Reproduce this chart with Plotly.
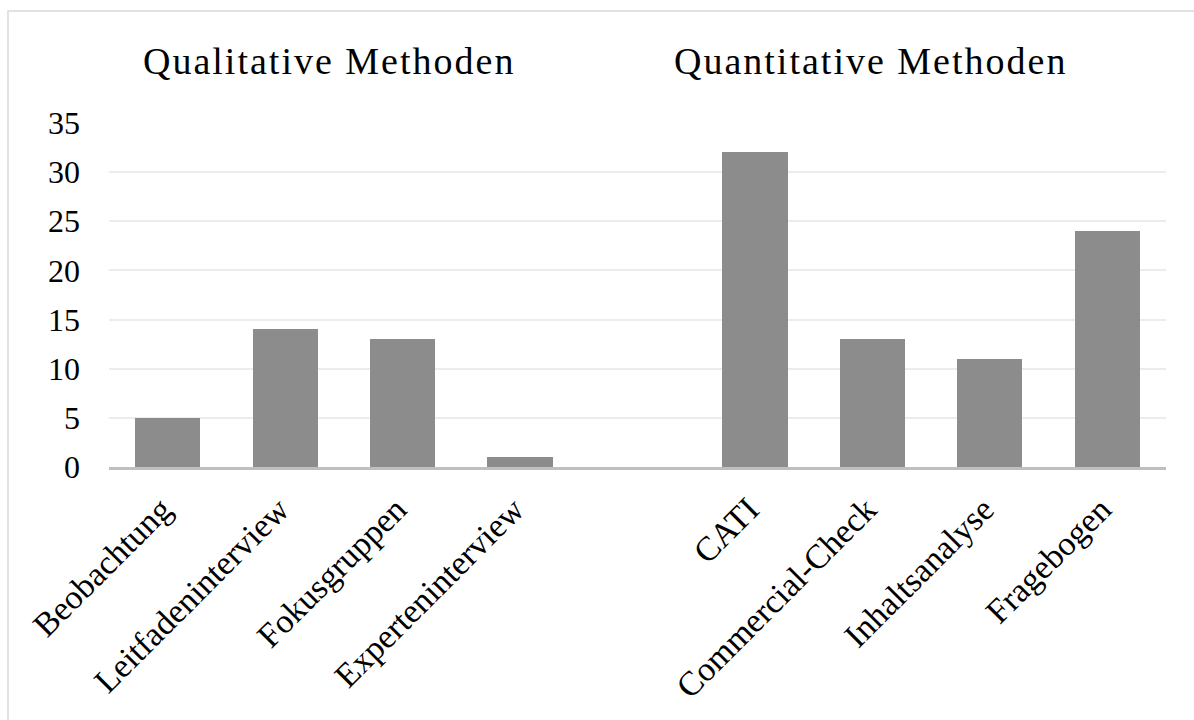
import plotly.graph_objects as go

# Survey methods and how often each was used; the blank slot separates the two groups
categories = ["Beobachtung", "Leitfadeninterview", "Fokusgruppen", "Experteninterview", "",
              "CATI", "Commercial-Check", "Inhaltsanalyse", "Fragebogen"]
counts = [5, 14, 13, 1, None, 32, 13, 11, 24]
group_titles = ["Qualitative Methoden", "Quantitative Methoden"]
y_ticks = [0, 5, 10, 15, 20, 25, 30, 35]

FONT = "Liberation Serif, Times New Roman, serif"
positions = list(range(len(categories)))

fig = go.Figure(
    go.Bar(
        x=positions,
        y=counts,
        width=0.555,
        marker=dict(color="#8c8c8c", line=dict(width=0)),
        hoverinfo="x+y",
    )
)

fig.update_layout(
    width=1194,
    height=720,
    margin=dict(l=109, r=28, t=123, b=253),
    paper_bgcolor="white",
    plot_bgcolor="white",
    showlegend=False,
    font=dict(family=FONT, color="black", size=32),
    bargap=0,
)

fig.update_xaxes(
    range=[-0.5, len(categories) - 0.5],
    tickvals=positions,
    ticktext=categories,
    tickangle=-45,
    tickfont=dict(family=FONT, size=34, color="black"),
    ticklabelstandoff=6,
    ticklabelshift=-6,
    showgrid=False,
    showline=True,
    linecolor="#bfbfbf",
    linewidth=3,
    ticks="",
    zeroline=False,
)

fig.update_yaxes(
    range=[0, 35],
    tickvals=y_ticks,
    tickfont=dict(family=FONT, size=32, color="black"),
    showgrid=True,
    gridcolor="#ececec",
    gridwidth=1.5,
    zeroline=False,
    showline=False,
    ticks="",
    ticklabelstandoff=28,
)

# Group headings above the plot
for title, xc in zip(group_titles, [0.208, 0.720]):
    fig.add_annotation(
        text='<span style="letter-spacing:2px">' + title + "</span>",
        xref="paper", yref="paper",
        x=xc, y=1 + (123 - 61) / 344,
        xanchor="center", yanchor="middle",
        showarrow=False,
        font=dict(family=FONT, size=38, color="black"),
    )

# Light frame around the chart
fig.add_shape(
    type="rect",
    xref="paper", yref="paper",
    x0=(8 - 109) / 1057, x1=1.2,
    y0=-1.2, y1=1 + (123 - 11) / 344,
    line=dict(color="#d9d9d9", width=1.5),
    fillcolor="rgba(0,0,0,0)",
    layer="below",
)

fig.write_html("out.html")
